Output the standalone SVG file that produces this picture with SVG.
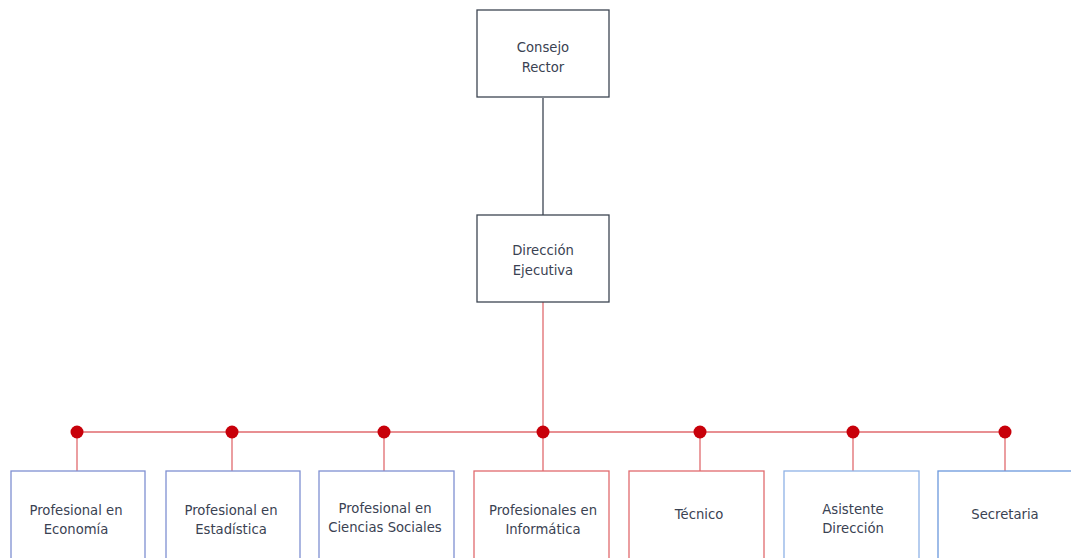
<svg xmlns="http://www.w3.org/2000/svg" width="1071" height="558" viewBox="0 0 1071 558">
<style>
.box{fill:#fff;stroke-width:1.3}
.dark{stroke:#3d4552}
.blue{stroke:#7f90d2}
.lblue{stroke:#8fb2e6}
.sblue{stroke:#6b98dc}
.red{stroke:#e06a6e}
text{font-family:"DejaVu Sans","Verdana",sans-serif;font-size:13.2px;fill:#3a4252;text-anchor:middle}
.dot{fill:#c8000a}
</style>
<rect width="1071" height="558" fill="#fff"/>
<g id="connectors" fill="none" stroke-width="1.3">
<line x1="543" y1="98" x2="543" y2="215" stroke="#3d4552"/>
<line x1="543" y1="302" x2="543" y2="432" stroke="#e06a6e"/>
<line x1="77" y1="432" x2="1005" y2="432" stroke="#e06a6e"/>
<g stroke="#e06a6e">
<line x1="77" y1="432" x2="77" y2="471"/>
<line x1="232" y1="432" x2="232" y2="471"/>
<line x1="384" y1="432" x2="384" y2="471"/>
<line x1="543" y1="432" x2="543" y2="471"/>
<line x1="700" y1="432" x2="700" y2="471"/>
<line x1="853" y1="432" x2="853" y2="471"/>
<line x1="1005" y1="432" x2="1005" y2="471"/>
</g>
<g class="dot" stroke="none">
<circle cx="77" cy="432" r="6.5"/>
<circle cx="232" cy="432" r="6.5"/>
<circle cx="384" cy="432" r="6.5"/>
<circle cx="543" cy="432" r="6.5"/>
<circle cx="700" cy="432" r="6.5"/>
<circle cx="853" cy="432" r="6.5"/>
<circle cx="1005" cy="432" r="6.5"/>
</g>
</g>
<g id="consejo"><rect class="box dark" x="477" y="10" width="132" height="87"/><text x="543" y="52">Consejo</text><text x="543" y="72">Rector</text></g>
<g id="direccion"><rect class="box dark" x="477" y="215" width="132" height="87"/><text x="543" y="255">Dirección</text><text x="543" y="275">Ejecutiva</text></g>
<g id="economia"><rect class="box blue" x="11" y="471" width="134" height="100"/><text x="76" y="515">Profesional en</text><text x="76" y="534">Economía</text></g>
<g id="estadistica"><rect class="box blue" x="166" y="471" width="134" height="100"/><text x="231" y="515">Profesional en</text><text x="231" y="534">Estadística</text></g>
<g id="sociales"><rect class="box blue" x="319" y="471" width="135" height="100"/><text x="385" y="513">Profesional en</text><text x="385" y="532">Ciencias Sociales</text></g>
<g id="informatica"><rect class="box red" x="474" y="471" width="135" height="100"/><text x="543" y="515">Profesionales en</text><text x="543" y="534">Informática</text></g>
<g id="tecnico"><rect class="box red" x="629" y="471" width="135" height="100"/><text x="699" y="519">Técnico</text></g>
<g id="asistente"><rect class="box lblue" x="784" y="471" width="135" height="100"/><text x="853" y="514">Asistente</text><text x="853" y="533">Dirección</text></g>
<g id="secretaria"><rect class="box sblue" x="938" y="471" width="136" height="100"/><text x="1005" y="519">Secretaria</text></g>
</svg>
